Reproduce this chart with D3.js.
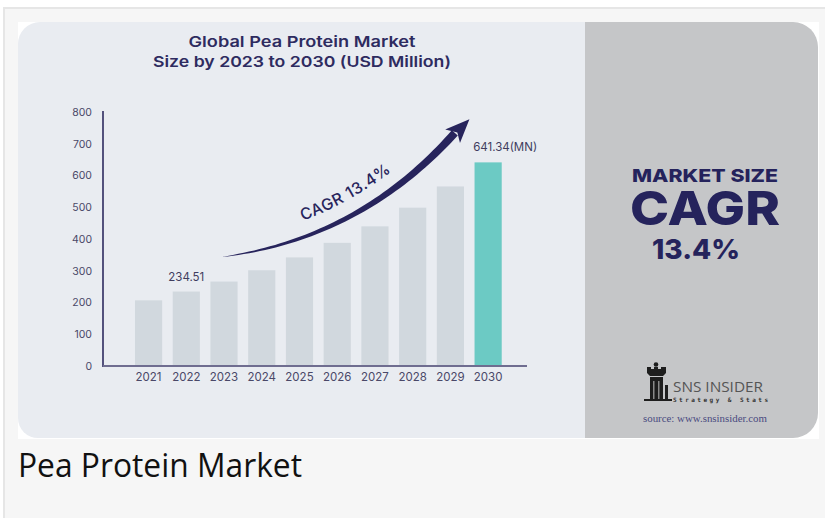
<!DOCTYPE html>
<html>
<head>
<meta charset="utf-8">
<script src="https://cdn.jsdelivr.net/npm/d3@7"></script>
<style>
  html, body { margin: 0; padding: 0; background: #fff; }
  svg { display: block; font-family: Inter, "Open Sans", sans-serif; }
</style>
</head>
<body>
<div id="chart"></div>
<script>
(function () {
  'use strict';

  /* ---------- data ---------- */
  var years = ['2021', '2022', '2023', '2024', '2025', '2026', '2027', '2028', '2029', '2030'];
  var marketSize = [206.8, 234.51, 265.9, 301.6, 342.0, 387.8, 439.8, 498.7, 565.5, 641.34];
  var yTicks = [0, 100, 200, 300, 400, 500, 600, 700, 800];
  var titleLines = ['Global Pea Protein Market', 'Size by 2023 to 2030 (USD Million)'];
  var valueLabels = { '2022': '234.51', '2030': '641.34(MN)' };
  var cagrText = 'CAGR 13.4%';
  var sideLines = ['MARKET SIZE', 'CAGR', '13.4%'];
  var caption = 'Pea Protein Market';

  var W = 825, H = 518;
  var navy = '#27245c';

  var svg = d3.select('#chart').append('svg')
    .attr('width', W).attr('height', H);

  /* ---------- frame & card ---------- */
  function roundRect(x, y, w, h, r) { // r = [tl, tr, br, bl]
    return 'M' + (x + r[0]) + ',' + y +
      'H' + (x + w - r[1]) + (r[1] ? 'A' + r[1] + ',' + r[1] + ' 0 0 1 ' + (x + w) + ',' + (y + r[1]) : '') +
      'V' + (y + h - r[2]) + (r[2] ? 'A' + r[2] + ',' + r[2] + ' 0 0 1 ' + (x + w - r[2]) + ',' + (y + h) : '') +
      'H' + (x + r[3]) + (r[3] ? 'A' + r[3] + ',' + r[3] + ' 0 0 1 ' + x + ',' + (y + h - r[3]) : '') +
      'V' + (y + r[0]) + (r[0] ? 'A' + r[0] + ',' + r[0] + ' 0 0 1 ' + (x + r[0]) + ',' + y : '') + 'Z';
  }

  svg.append('rect').attr('x', 4).attr('y', 8).attr('width', W - 4).attr('height', H - 8).attr('fill', '#f6f6f6');
  svg.append('rect').attr('x', 4).attr('y', 7).attr('width', W - 4).attr('height', 2).attr('fill', '#e6e6e6');
  svg.append('rect').attr('x', 3).attr('y', 7).attr('width', 2).attr('height', H - 7).attr('fill', '#e6e6e6');
  svg.append('rect').attr('x', 18).attr('y', 22).attr('width', 801).attr('height', 417).attr('fill', '#ffffff');
  svg.append('path').attr('d', roundRect(18, 22, 567, 416, [22, 0, 0, 20])).attr('fill', '#e9ecf1');
  svg.append('path').attr('d', roundRect(585, 22, 233, 416, [0, 25, 25, 0])).attr('fill', '#c5c6c8');

  /* ---------- title ---------- */
  svg.append('g').selectAll('text')
    .data(titleLines)
    .join('text')
    .attr('x', 302)
    .attr('y', function (d, i) { return 47 + i * 20; })
    .attr('text-anchor', 'middle')
    .attr('font-size', 15)
    .attr('font-weight', 600)
    .attr('fill', '#2e2b60')
    .attr('textLength', function (d, i) { return i === 0 ? 227 : 298; })
    .attr('lengthAdjust', 'spacingAndGlyphs')
    .text(function (d) { return d; });

  /* ---------- scales ---------- */
  var x = d3.scaleBand().domain(years).range([129.7, 507]).paddingInner(0.28).paddingOuter(0.14);
  var y = d3.scaleLinear().domain([0, 800]).range([366, 112]);
  var axisX = 103;

  /* bars */
  svg.append('g').selectAll('rect')
    .data(years)
    .join('rect')
    .attr('x', function (d) { return x(d); })
    .attr('y', function (d, i) { return y(marketSize[i]); })
    .attr('width', x.bandwidth())
    .attr('height', function (d, i) { return y(0) - y(marketSize[i]); })
    .attr('fill', function (d, i) { return i === years.length - 1 ? '#6ccac4' : '#d1d8de'; });

  /* y axis */
  var yAxis = svg.append('g')
    .attr('transform', 'translate(' + axisX + ',0)')
    .call(d3.axisLeft(y).tickValues(yTicks).tickSize(0).tickPadding(11));
  yAxis.select('.domain').remove();
  yAxis.selectAll('text')
    .attr('font-family', 'Inter, "Open Sans", sans-serif')
    .attr('font-size', 10.5)
    .attr('fill', '#4a4868');

  svg.append('line')
    .attr('x1', axisX).attr('x2', axisX)
    .attr('y1', y(800) - 1).attr('y2', y(0) + 1)
    .attr('stroke', '#2e2b60').attr('stroke-width', 1.6);

  /* x axis */
  var xAxis = svg.append('g')
    .attr('transform', 'translate(0,' + y(0) + ')')
    .call(d3.axisBottom(x).tickSize(0).tickPadding(7));
  xAxis.select('.domain').remove();
  xAxis.selectAll('text')
    .attr('font-family', 'Inter, "Open Sans", sans-serif')
    .attr('font-size', 11.5)
    .attr('fill', '#4a4868');

  svg.append('line')
    .attr('x1', axisX).attr('x2', 527)
    .attr('y1', y(0)).attr('y2', y(0))
    .attr('stroke', '#6f6d90').attr('stroke-width', 1.8);

  /* value labels */
  svg.append('g').selectAll('text')
    .data(years.filter(function (d) { return valueLabels[d]; }))
    .join('text')
    .attr('x', function (d) { return x(d) + x.bandwidth() / 2 + (d === '2030' ? 17 : 0); })
    .attr('y', function (d) { return y(marketSize[years.indexOf(d)]) - 11; })
    .attr('text-anchor', 'middle')
    .attr('font-size', 11.5)
    .attr('fill', '#3f3d5e')
    .text(function (d) { return valueLabels[d]; });

  /* ---------- CAGR swoosh arrow ---------- */
  var P0 = [222, 257], C = [360, 240], P2 = [456, 134];
  function bez(t) {
    var a = (1 - t) * (1 - t), b = 2 * (1 - t) * t, c = t * t;
    return [a * P0[0] + b * C[0] + c * P2[0], a * P0[1] + b * C[1] + c * P2[1]];
  }
  function tangent(t) {
    var dx = 2 * (1 - t) * (C[0] - P0[0]) + 2 * t * (P2[0] - C[0]);
    var dy = 2 * (1 - t) * (C[1] - P0[1]) + 2 * t * (P2[1] - C[1]);
    var l = Math.sqrt(dx * dx + dy * dy);
    return [dx / l, dy / l];
  }
  var upper = [], lower = [];
  d3.range(0, 1.0001, 0.02).forEach(function (t) {
    var p = bez(t), d = tangent(t), n = [d[1], -d[0]];
    var w = 8 * Math.pow(t, 0.7);
    upper.push([p[0] + n[0] * w * 0.7, p[1] + n[1] * w * 0.7]);
    lower.push([p[0] - n[0] * w * 0.3, p[1] - n[1] * w * 0.3]);
  });
  var shaft = upper.concat(lower.reverse());
  svg.append('path')
    .attr('d', d3.line()(shaft) + 'Z')
    .attr('fill', navy);

  var E = bez(1), dE = tangent(1), nE = [dE[1], -dE[0]];
  var head = [
    [E[0] + dE[0] * 20, E[1] + dE[1] * 20],
    [E[0] - dE[0] * 4 - nE[0] * 9, E[1] - dE[1] * 4 - nE[1] * 9],
    [E[0] + dE[0] * 2, E[1] + dE[1] * 2],
    [E[0] - dE[0] * 4 + nE[0] * 11, E[1] - dE[1] * 4 + nE[1] * 11]
  ];
  svg.append('path').attr('d', d3.line()(head) + 'Z').attr('fill', navy);

  svg.append('path')
    .attr('id', 'cagr-path')
    .attr('d', 'M220,241 Q352,224 443,124')
    .attr('fill', 'none');
  svg.append('text')
    .attr('font-size', 16)
    .attr('font-weight', 500)
    .attr('fill', navy)
    .attr('letter-spacing', 0.6)
    .append('textPath')
    .attr('href', '#cagr-path')
    .attr('startOffset', '53%')
    .attr('text-anchor', 'middle')
    .text(cagrText);

  /* ---------- right panel ---------- */
  var side = [
    { y: 182, size: 18, len: 146 },
    { y: 225, size: 47, len: 150 },
    { y: 259, size: 27, len: 88 }
  ];
  svg.append('g').selectAll('text')
    .data(sideLines)
    .join('text')
    .attr('x', function (d, i) { return i === 2 ? 696 : 705; })
    .attr('y', function (d, i) { return side[i].y; })
    .attr('text-anchor', 'middle')
    .attr('font-size', function (d, i) { return side[i].size; })
    .attr('font-weight', 800)
    .attr('fill', '#25235c')
    .attr('textLength', function (d, i) { return side[i].len; })
    .attr('lengthAdjust', 'spacingAndGlyphs')
    .text(function (d) { return d; });

  /* logo */
  var logo = svg.append('g').attr('fill', '#1e1e1e');
  logo.append('circle').attr('cx', 656).attr('cy', 364.5).attr('r', 2.3);
  logo.append('path').attr('d',
    'M647,367 H651 V369 H654 V367 H658 V369 H661 V367 H666 V373 L663,376 H650 L647,373 Z');
  logo.append('rect').attr('x', 650).attr('y', 377).attr('width', 13).attr('height', 22);
  logo.append('rect').attr('x', 644).attr('y', 399).attr('width', 28).attr('height', 2);
  logo.append('rect').attr('x', 653).attr('y', 381).attr('width', 1.5).attr('height', 18).attr('fill', '#8a8a8a');
  logo.append('rect').attr('x', 658).attr('y', 381).attr('width', 1.5).attr('height', 18).attr('fill', '#8a8a8a');
  logo.append('rect').attr('x', 665).attr('y', 385).attr('width', 3).attr('height', 14);

  svg.append('text')
    .attr('x', 673).attr('y', 392)
    .attr('font-family', '"Open Sans", sans-serif')
    .attr('font-size', 15)
    .attr('fill', '#555555')
    .attr('textLength', 90)
    .attr('lengthAdjust', 'spacingAndGlyphs')
    .text('SNS INSIDER');
  svg.append('text')
    .attr('x', 673).attr('y', 402)
    .attr('font-family', '"DejaVu Sans Mono", monospace')
    .attr('font-size', 6)
    .attr('font-weight', 700)
    .attr('fill', '#333333')
    .attr('textLength', 95)
    .attr('lengthAdjust', 'spacing')
    .text('Strategy & Stats');
  svg.append('text')
    .attr('x', 643).attr('y', 421.5)
    .attr('font-family', '"Liberation Serif", "DejaVu Serif", serif')
    .attr('font-size', 10)
    .attr('fill', '#4a4a80')
    .attr('textLength', 124)
    .attr('lengthAdjust', 'spacingAndGlyphs')
    .text('source: www.snsinsider.com');

  /* ---------- caption ---------- */
  svg.append('text')
    .attr('x', 18).attr('y', 477)
    .attr('font-family', '"Open Sans", sans-serif')
    .attr('font-size', 32)
    .attr('font-weight', 400)
    .attr('fill', '#111111')
    .attr('textLength', 284)
    .attr('lengthAdjust', 'spacingAndGlyphs')
    .text(caption);
})();
</script>
</body>
</html>
